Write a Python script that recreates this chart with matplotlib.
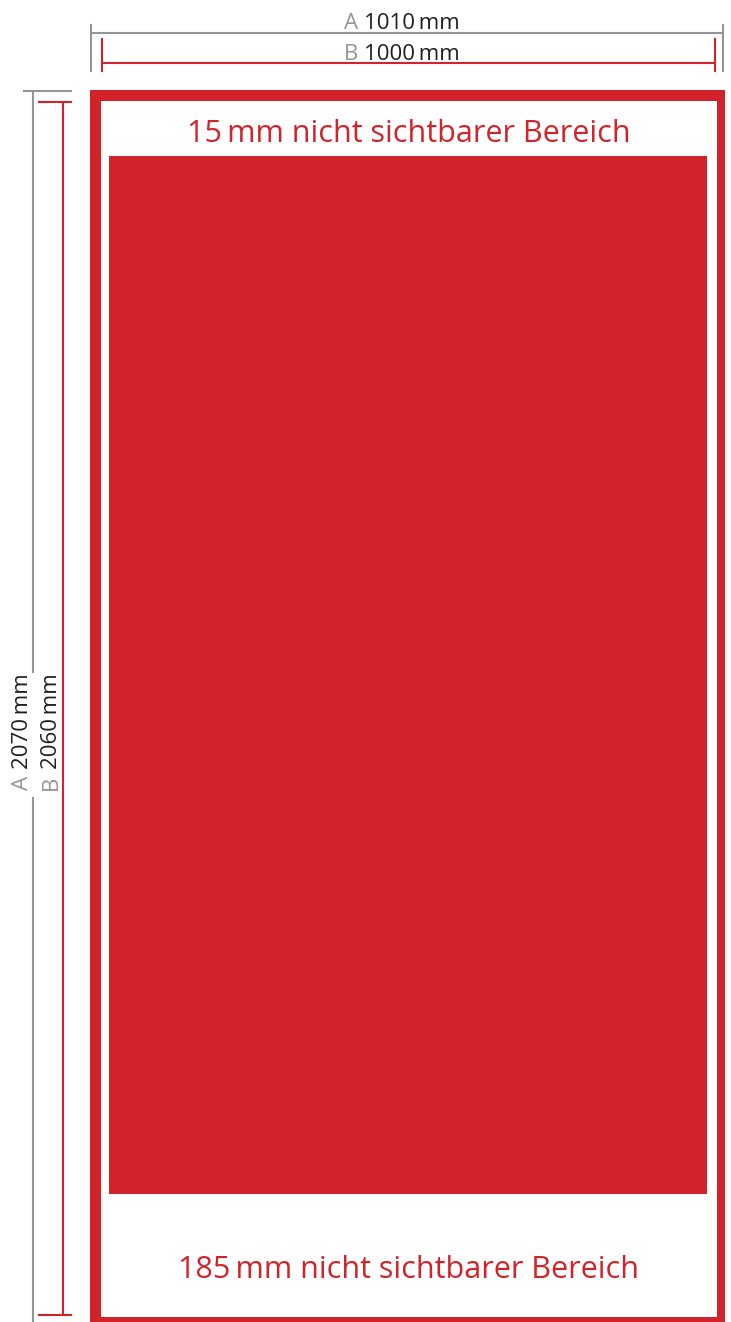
import matplotlib.pyplot as plt
from matplotlib.patches import Rectangle

plt.rcParams['font.family'] = ['Open Sans', 'DejaVu Sans']

# labels / dimensions shown on the drawing
dim_letters = ["A", "B"]
width_labels = ["1010\u2009mm", "1000\u2009mm"]
height_labels = ["2070\u2009mm", "2060\u2009mm"]
hidden_labels = ["15\u2009mm nicht sichtbarer Bereich",
                 "185\u2009mm nicht sichtbarer Bereich"]

red = "#D2232A"
gray = "#939598"
dark = "#231F20"

W, H = 731, 1322
fig = plt.figure(figsize=(W / 100, H / 100), dpi=100)
ax = fig.add_axes([0, 0, 1, 1])
ax.set_xlim(0, W)
ax.set_ylim(H, 0)
ax.axis("off")

lw = 1.5
fs = 16

# top dimension lines (A gray, B red)
ax.plot([90.7, 723.3], [32.7, 32.7], color=gray, lw=lw, solid_capstyle="butt")
ax.plot([90.7, 90.7], [25, 71], color=gray, lw=lw)
ax.plot([723.3, 723.3], [25, 71], color=gray, lw=lw)
ax.plot([102, 715], [62.7, 62.7], color=red, lw=lw, solid_capstyle="butt")
ax.plot([102, 102], [39, 71], color=red, lw=lw)
ax.plot([715, 715], [39, 71], color=red, lw=lw)

# top labels
ax.text(358.5, 29, dim_letters[0], color=gray, fontsize=fs, ha="right", va="baseline")
ax.text(364, 29, width_labels[0], color=dark, fontsize=fs, ha="left", va="baseline")
ax.text(358.5, 60.5, dim_letters[1], color=gray, fontsize=fs, ha="right", va="baseline")
ax.text(364, 60.5, width_labels[1], color=dark, fontsize=fs, ha="left", va="baseline")

# left dimension lines
ax.plot([32.7, 32.7], [91, 673], color=gray, lw=lw, solid_capstyle="butt")
ax.plot([32.7, 32.7], [797, 1330], color=gray, lw=lw, solid_capstyle="butt")
ax.plot([24, 71], [91, 91], color=gray, lw=lw)
ax.plot([63.3, 63.3], [102, 1315], color=red, lw=lw, solid_capstyle="butt")
ax.plot([39, 71], [102, 102], color=red, lw=lw)
ax.plot([39, 71], [1315, 1315], color=red, lw=lw)

# left labels (rotated)
for x, letter, lab in [(28, dim_letters[0], height_labels[0]),
                       (57, dim_letters[1], height_labels[1])]:
    ax.text(x, 776, letter, color=gray, fontsize=fs, rotation=90,
            rotation_mode="anchor", ha="right", va="baseline")
    ax.text(x, 769, lab, color=dark, fontsize=fs, rotation=90,
            rotation_mode="anchor", ha="left", va="baseline")

# outer frame
ax.add_patch(Rectangle((90, 90), 634.5, 1240, facecolor=red, edgecolor="none"))
ax.add_patch(Rectangle((100.5, 100.7), 616.2, 1216, facecolor="white", edgecolor="none"))

# visible area
ax.add_patch(Rectangle((109.3, 156), 598, 1038.3, facecolor=red, edgecolor="none"))

ax.text(408.5, 141.7, hidden_labels[0], color=red, fontsize=22, ha="center", va="baseline")
ax.text(408.5, 1278.3, hidden_labels[1], color=red, fontsize=22, ha="center", va="baseline")

fig.savefig("out.png", dpi=100)
